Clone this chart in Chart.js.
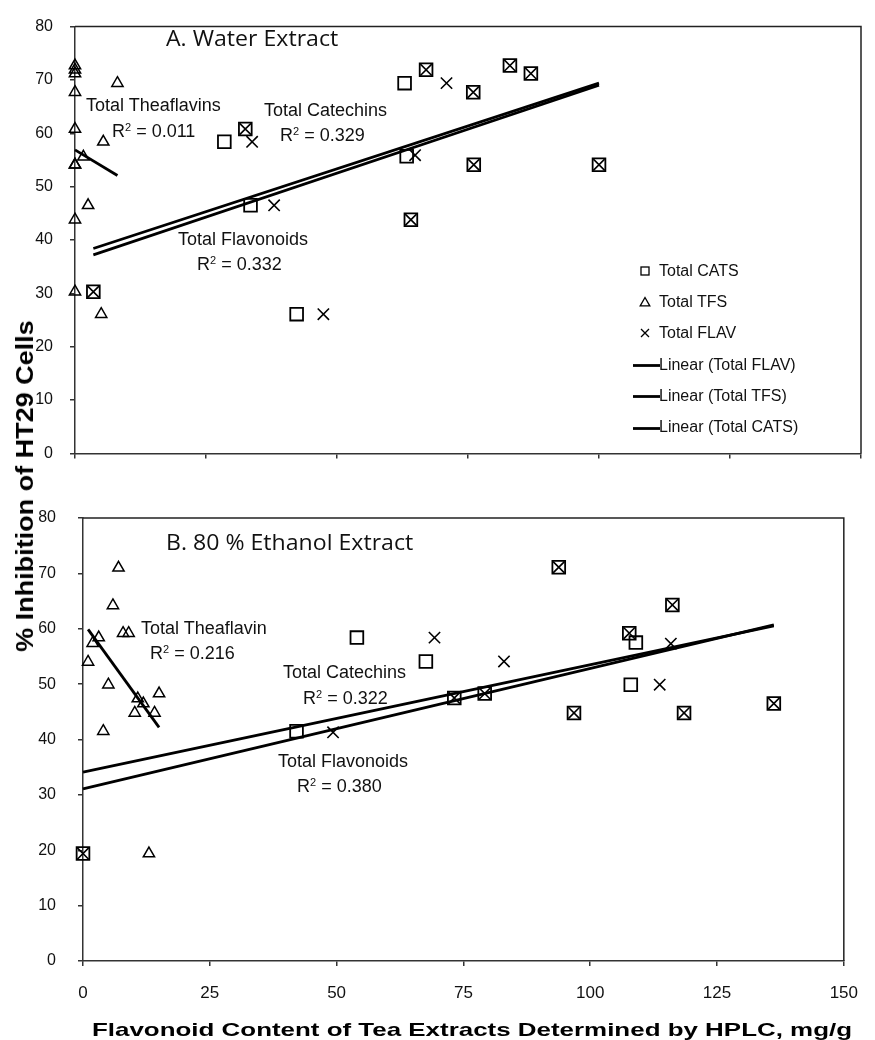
<!DOCTYPE html>
<html><head><meta charset="utf-8">
<script src="https://cdn.jsdelivr.net/npm/chart.js@4.4.0/dist/chart.umd.min.js"></script>
<style>
html,body{margin:0;padding:0;background:#fff;}
#wrap{position:relative;width:875px;height:1040px;overflow:hidden;font-family:"Liberation Sans",Arial,sans-serif;color:#111;}
.cv{position:absolute;left:0;}
.t{position:absolute;white-space:nowrap;line-height:1;font-size:18px;}
.panel{position:absolute;white-space:nowrap;line-height:1;font-family:"Open Sans";font-size:21px;transform-origin:left center;transform:scaleX(1.1);}
.sup{font-size:11px;position:relative;top:-6px;}
.lg{position:absolute;white-space:nowrap;line-height:1;font-size:16px;}
.axt{position:absolute;white-space:nowrap;line-height:1;font-weight:bold;color:#000;}
svg{position:absolute;overflow:visible;}
</style></head>
<body><div id="wrap">
<div class="cv" style="top:0;width:875px;height:480px"><canvas id="c1" width="875" height="480"></canvas></div>
<div class="cv" style="top:480px;width:875px;height:560px"><canvas id="c2" width="875" height="560"></canvas></div>

<div class="panel" style="left:166px;top:28px">A. Water Extract</div>
<div class="panel" style="left:166px;top:532px">B. 80 % Ethanol Extract</div>

<div class="t" style="left:86px;top:96px">Total Theaflavins</div>
<div class="t" style="left:112px;top:122px">R<span class="sup">2</span> = 0.011</div>
<div class="t" style="left:264px;top:101px">Total Catechins</div>
<div class="t" style="left:280px;top:126px">R<span class="sup">2</span> = 0.329</div>
<div class="t" style="left:178px;top:230px">Total Flavonoids</div>
<div class="t" style="left:197px;top:255px">R<span class="sup">2</span> = 0.332</div>

<div class="t" style="left:141px;top:619px">Total Theaflavin</div>
<div class="t" style="left:150px;top:644px">R<span class="sup">2</span> = 0.216</div>
<div class="t" style="left:283px;top:663px">Total Catechins</div>
<div class="t" style="left:303px;top:689px">R<span class="sup">2</span> = 0.322</div>
<div class="t" style="left:278px;top:752px">Total Flavonoids</div>
<div class="t" style="left:297px;top:777px">R<span class="sup">2</span> = 0.380</div>

<div id="legend"></div>

<div id="ytitle" class="axt" style="left:25px;top:486px;font-size:24px;">% Inhibition of HT29 Cells</div>
<div id="xtitle" class="axt" style="left:472px;top:1029px;font-size:19px;">Flavonoid Content of Tea Extracts Determined by HPLC, mg/g</div>
</div>
<script>
// ---------- Data: Panel A (Water Extract) ----------
const waterCatsX = [83, 67, 87, 76, 32.5, 76.1, 100, 64.1, 3.5, 62.9, 28.5, 63.3, 33.5, 42.3];
const waterCatsY = [72.7, 71.9, 71.2, 67.7, 60.8, 54.1, 54.1, 43.8, 30.3, 69.4, 58.4, 55.7, 46.5, 26.1];
const waterFlavX = [83, 67, 87, 76, 32.5, 76.1, 100, 64.1, 3.5, 70.9, 33.8, 64.9, 38, 47.4];
const waterFlavY = [72.7, 71.9, 71.2, 67.7, 60.8, 54.1, 54.1, 43.8, 30.3, 69.4, 58.4, 55.9, 46.5, 26.1];
const waterTfsX = [0, 0, 0, 0, 0, 0, 0, 0, 0, 8.1, 5.4, 1.6, 2.5, 5.0];
const waterTfsY = [72.7, 71.9, 71.2, 67.7, 60.8, 54.1, 54.1, 43.8, 30.3, 69.4, 58.4, 55.6, 46.5, 26.1];
const waterTrendFlavX = [3.5, 100], waterTrendFlavY = [37.2, 69.0];
const waterTrendCatsX = [3.5, 100], waterTrendCatsY = [38.4, 69.4];
const waterTrendTfsX = [0, 8.1], waterTrendTfsY = [56.9, 52.1];

// ---------- Data: Panel B (80 % Ethanol Extract) ----------
const ethCatsX = [54.0, 67.6, 73.2, 79.2, 42.1, 96.8, 93.8, 116.2, 107.7, 109.0, 108.0, 118.5, 136.2, 0];
const ethCatsY = [58.4, 54.1, 47.5, 48.3, 41.5, 44.8, 71.1, 64.3, 59.2, 57.5, 49.9, 44.8, 46.5, 19.4];
const ethFlavX = [69.3, 83.0, 73.2, 79.2, 49.3, 96.8, 93.8, 116.2, 107.7, 115.9, 113.7, 118.5, 136.2, 0];
const ethFlavY = [58.4, 54.1, 47.5, 48.3, 41.3, 44.8, 71.1, 64.3, 59.2, 57.3, 49.9, 44.8, 46.5, 19.4];
const ethTfsX = [7.0, 5.9, 7.9, 9.0, 3.1, 1.9, 1.0, 5.0, 10.8, 11.9, 15.0, 10.2, 14.1, 4.0, 13.0];
const ethTfsY = [71.0, 64.2, 59.2, 59.2, 58.4, 57.4, 54.0, 49.9, 47.4, 46.5, 48.3, 44.8, 44.8, 41.5, 19.4];
const ethTrendCatsX = [0, 136.2], ethTrendCatsY = [34.1, 60.5];
const ethTrendFlavX = [0, 136.2], ethTrendFlavY = [31.1, 60.7];
const ethTrendTfsX = [1.0, 15.0], ethTrendTfsY = [59.9, 42.2];

// ---------- Ticks ----------
const xTickValues = [0, 25, 50, 75, 100, 125, 150];
const yTickValues = [0, 10, 20, 30, 40, 50, 60, 70, 80];
const legendLabels = ['Total CATS', 'Total TFS', 'Total FLAV', 'Linear (Total FLAV)', 'Linear (Total TFS)', 'Linear (Total CATS)'];

const pts = (xs, ys) => xs.map((x, i) => ({x, y: ys[i]}));
function markers(label, xs, ys, style, r, bw) {
  return {label, data: pts(xs, ys), pointStyle: style, pointRadius: r,
    pointBorderColor: '#000', pointBackgroundColor: 'rgba(0,0,0,0)', pointBorderWidth: bw,
    showLine: false, clip: false};
}
function trend(label, xs, ys) {
  return {label, data: pts(xs, ys), showLine: true, borderColor: '#000', borderWidth: 2.8,
    pointRadius: 0, fill: false, clip: false};
}
const frame = {id: 'frame', afterDatasetsDraw(chart) {
  const {ctx, chartArea: a} = chart;
  ctx.save(); ctx.strokeStyle = '#222'; ctx.lineWidth = 1.5;
  ctx.beginPath(); ctx.moveTo(a.left, a.top); ctx.lineTo(a.right, a.top); ctx.lineTo(a.right, a.bottom); ctx.stroke();
  ctx.restore();
}};
function makeChart(id, datasets, cfg) {
  return new Chart(document.getElementById(id), {
    type: 'scatter',
    data: {datasets},
    options: {
      responsive: false, animation: false, events: [],
      layout: {padding: {top: cfg.padTop, right: cfg.padRight, left: 0, bottom: 0}},
      plugins: {legend: {display: false}, tooltip: {enabled: false}},
      scales: {
        x: {type: 'linear', min: 0, max: 150,
          afterBuildTicks: s => { s.ticks = xTickValues.map(v => ({value: v})); },
          afterFit: s => { s.height = cfg.xH; },
          grid: {drawOnChartArea: false, drawTicks: true, tickLength: 5, color: '#333', lineWidth: 1.5},
          border: {display: true, color: '#333', width: 1.5},
          ticks: {display: cfg.xLabels, padding: 17, color: '#111', maxRotation: 0, autoSkip: false,
            font: {family: 'Liberation Sans', size: 17}}},
        y: {type: 'linear', min: 0, max: 80,
          afterBuildTicks: s => { s.ticks = yTickValues.map(v => ({value: v})); },
          afterFit: s => { s.width = cfg.yW; },
          grid: {drawOnChartArea: false, drawTicks: true, tickLength: 5, color: '#333', lineWidth: 1.5},
          border: {display: true, color: '#333', width: 1.5},
          ticks: {padding: cfg.yPad, color: '#111', autoSkip: false,
            font: {family: 'Liberation Sans', size: 16}}}
      }
    },
    plugins: [frame]
  });
}

makeChart('c1', [
  markers('Total CATS', waterCatsX, waterCatsY, 'rect', 9, 1.8),
  markers('Total TFS', waterTfsX, waterTfsY, 'triangle', 6.5, 1.5),
  markers('Total FLAV', waterFlavX, waterFlavY, 'crossRot', 8, 1.6),
  trend('Linear (Total FLAV)', waterTrendFlavX, waterTrendFlavY),
  trend('Linear (Total TFS)', waterTrendTfsX, waterTrendTfsY),
  trend('Linear (Total CATS)', waterTrendCatsX, waterTrendCatsY)
], {padTop: 16, padRight: 14, xH: 20, yW: 75, yPad: 17, xLabels: false});

makeChart('c2', [
  markers('Total CATS', ethCatsX, ethCatsY, 'rect', 9, 1.8),
  markers('Total TFS', ethTfsX, ethTfsY, 'triangle', 6.5, 1.5),
  markers('Total FLAV', ethFlavX, ethFlavY, 'crossRot', 8, 1.6),
  trend('Linear (Total FLAV)', ethTrendFlavX, ethTrendFlavY),
  trend('Linear (Total TFS)', ethTrendTfsX, ethTrendTfsY),
  trend('Linear (Total CATS)', ethTrendCatsX, ethTrendCatsY)
], {padTop: 38, padRight: 17, xH: 79, yW: 83, yPad: 22, xLabels: true});

// ---------- Legend (HTML) ----------
(function () {
  const lg = document.getElementById('legend');
  const kinds = ['rect', 'tri', 'x', 'line', 'line', 'line'];
  const base = 276.5, step = 31.2;
  legendLabels.forEach((lab, i) => {
    const bl = base + step * i;
    const d = document.createElement('div');
    d.className = 'lg'; d.textContent = lab;
    d.style.left = '659px'; d.style.top = (bl - 13.5) + 'px';
    lg.appendChild(d);
    const ns = 'http://www.w3.org/2000/svg';
    const s = document.createElementNS(ns, 'svg');
    s.setAttribute('width', '30'); s.setAttribute('height', '14');
    s.style.left = '632px'; s.style.top = (bl - 13) + 'px';
    let inner = '';
    const cx = 13, cy = 7;
    if (kinds[i] === 'rect') inner = `<rect x="${cx-4}" y="${cy-4}" width="8" height="8" fill="none" stroke="#000" stroke-width="1.3"/>`;
    else if (kinds[i] === 'tri') inner = `<polygon points="${cx},${cy-4.5} ${cx+4.8},${cy+3.8} ${cx-4.8},${cy+3.8}" fill="none" stroke="#000" stroke-width="1.3"/>`;
    else if (kinds[i] === 'x') inner = `<path d="M${cx-4},${cy-4}L${cx+4},${cy+4}M${cx+4},${cy-4}L${cx-4},${cy+4}" stroke="#000" stroke-width="1.3"/>`;
    else inner = `<line x1="1" y1="8.5" x2="28" y2="8.5" stroke="#000" stroke-width="2.8"/>`;
    s.innerHTML = inner;
    lg.appendChild(s);
  });
})();

// ---------- Axis titles (stretched to the reference's lengths) ----------
(function () {
  const yt = document.getElementById('ytitle');
  const ky = 332 / yt.offsetWidth;
  yt.style.transform = `translate(-50%,-50%) rotate(-90deg) scaleX(${ky})`;
  const xt = document.getElementById('xtitle');
  const kx = 760 / xt.offsetWidth;
  xt.style.transform = `translate(-50%,-50%) scaleX(${kx})`;
})();
</script>
</body></html>
